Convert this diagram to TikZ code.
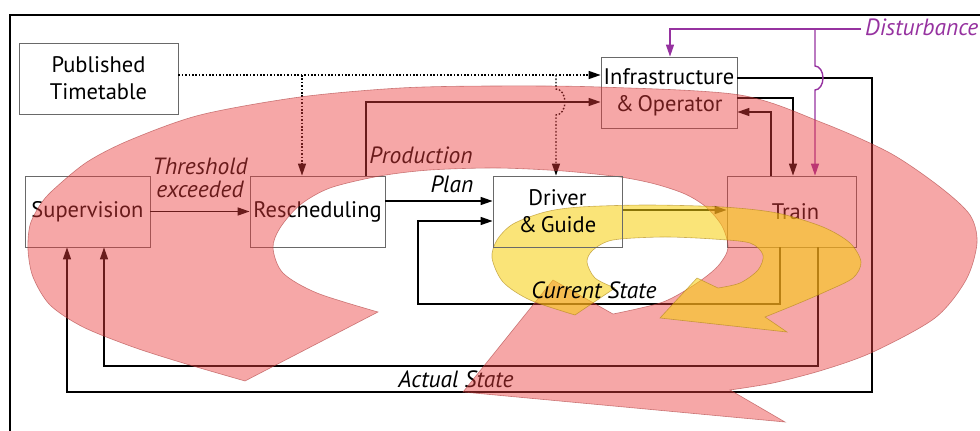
\documentclass[tikz,border=0pt]{standalone}
\usepackage{fontspec}
\setmainfont{PT Sans}
\usetikzlibrary{arrows.meta}
\pgfdeclarelayer{top}
\pgfsetlayers{main,top}
\definecolor{boxgray}{RGB}{105,105,105}
\definecolor{pinkc}{RGB}{235,60,60}
\definecolor{pinkline}{RGB}{170,60,60}
\definecolor{yellowc}{RGB}{246,207,14}
\definecolor{yellowline}{RGB}{170,130,20}
\definecolor{purp}{RGB}{150,50,160}
\tikzset{
  box/.style={draw=boxgray, line width=0.8pt, inner sep=0pt, align=center,
    font=\fontsize{22.5}{27}\selectfont},
  lbl/.style={inner sep=0pt, font=\fontsize{23.5}{26}\selectfont\itshape},
  arr/.style={line width=1.4pt, -{Triangle[length=12pt,width=8pt]}},
  dotarr/.style={line width=1.4pt, dash pattern=on 1.6pt off 1.8pt, -{Triangle[length=12pt,width=8pt]}},
  parr/.style={line width=1.4pt, draw=purp, -{Triangle[length=12pt,width=8pt]}, color=purp},
  pinkshape/.style={fill=pinkc, fill opacity=0.45, draw=pinkline, draw opacity=0.6, line width=0.6pt},
  yellowshape/.style={fill=yellowc, fill opacity=0.56, draw=yellowline, draw opacity=0.6, line width=0.6pt},
}
\begin{document}
\begin{tikzpicture}[x=1pt,y=-1pt]
\useasboundingbox (0,0) rectangle (980,431);
% frame
\draw[line width=1.6pt] (980,15) -- (10,15) -- (10,431);

% boxes
\node[box, minimum width=159pt, minimum height=71pt] (pt) at (98.5,78.5) {Published\\Timetable};
\node[box, minimum width=125pt, minimum height=71pt] (sup) at (87.5,211.5) {Supervision};
\node[box, minimum width=135pt, minimum height=71pt] (res) at (317.5,211.5) {Rescheduling};
\begin{pgfonlayer}{top}
\node[box, minimum width=129pt, minimum height=71pt] (drv) at (557.5,211.5) {Driver\\\&\,Guide};
\node[lbl, anchor=base] (cur) at (594,298) {Current State};
\end{pgfonlayer}
\node[box, minimum width=136pt, minimum height=71pt] (inf) at (669,92.5) {Infrastructure\\\&\,Operator};
\node[box, minimum width=129pt, minimum height=71pt] (trn) at (791.5,211.5) {\hspace*{8pt}Train};

% labels
\node[lbl, anchor=base] (thr) at (200,174) {Threshold};
\node[lbl, anchor=base] (exc) at (200,197) {exceeded};
\node[lbl, anchor=base] (prod) at (421,163) {Production};
\node[lbl, anchor=base] (plan) at (452,192) {Plan};
\node[lbl, anchor=base] (act) at (456,387) {Actual State};
\node[lbl, anchor=base west, text=purp, inner xsep=4pt] (dist) at (861,35) {Disturbance};

% connectors
\draw[arr] (sup.east) -- (res.west);
\draw[dotarr] (pt.east |- 0,75) -- (inf.west |- 0,75);
\coordinate (j1) at (302,75);
\coordinate (j2) at (556,75);
\draw[dotarr] (j1) -- (res.north -| j1);
\draw[dotarr] (j2) -- (556,89) arc[start angle=-90, end angle=90, x radius=9, y radius=13] -- (drv.north -| j2);
\draw[arr] (res.north -| 366,0) |- (inf.west |- 0,102);
\draw[arr] (res.east |- 0,201) -- (drv.west |- 0,201);
\draw[arr] (trn.south -| 780,0) |- (418,304) |- (drv.west |- 0,221);
\draw[arr] (drv.east |- 0,210) -- (trn.west |- 0,210);
\draw[arr] (inf.east |- 0,78) -| (872,392) -| (sup.south -| 67,0);
\draw[arr] (inf.east |- 0,98) -| (trn.north -| 793,0);
\draw[arr] (trn.north -| 771,0) |- (inf.east |- 0,112);
\draw[arr] (trn.south -| 818,0) |- (104,366) -- (sup.south -| 104,0);
\coordinate (j3) at (815,29);
\draw[parr] (dist.west |- 0,29) -| (inf.north -| 670,0);
\draw[parr] (j3) -- (815,66) arc[start angle=-90, end angle=90, x radius=8, y radius=12] -- (trn.north -| j3);

% big pink spiral arrow
\path[pinkshape] plot[smooth] coordinates {(245,381) (183,363) (133,347) (83,327) (50,305) (33,277) (28,250) (30,225) (40,205) (53,190) (87,162) (130,140) (200,115) (300,97) (400,88) (490,86) (600,87) (740,95) (823,123) (890,153) (940,187) (970,215) (977,243) (966,280) (935,318) (873,352) (823,370) (773,383) (730,390)}
  -- (785,422) -- (463,392) -- (553,280) -- (613,314)
  -- plot[smooth] coordinates {(613,314) (663,302) (697,283) (718,266) (728,248) (722,226) (706,207) (685,194) (655,184) (620,177) (563,171) (497,168) (430,170) (380,176) (330,188) (300,205) (280,228) (273,248) (283,273) (317,293) (378,312)}
  -- cycle;

% yellow spiral arrow
\path[yellowshape] plot[smooth] coordinates {(575,315) (530,300) (503,282) (492,258) (497,240) (513,224) (545,212) (580,207) (647,205) (723,207) (777,213) (823,227) (850,243) (861,262) (853,278) (827,291) (797,304) (765,317)}
  -- (787,332) -- (660,318) -- (697,278) -- (718,288)
  -- plot[smooth] coordinates {(718,288) (740,283) (758,270) (763,255) (750,243) (713,239) (663,237) (613,240) (593,250) (587,262) (595,278) (615,288)}
  -- cycle;
\end{tikzpicture}
\end{document}
